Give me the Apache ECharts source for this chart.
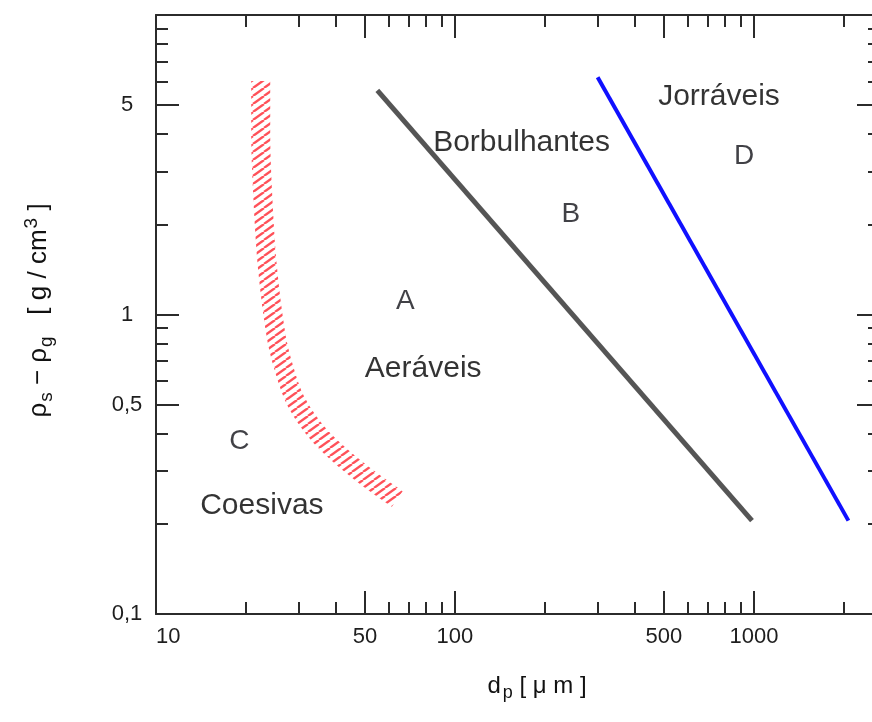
<!DOCTYPE html>
<html>
<head>
<meta charset="utf-8">
<script src="https://cdn.jsdelivr.net/npm/echarts@6/dist/echarts.min.js"></script>
<style>
  html, body { margin: 0; padding: 0; background: #fff; overflow: hidden; }
  #chart { width: 872px; height: 722px; }
</style>
</head>
<body>
<div id="chart"></div>
<script>
// Particle diameter axis (µm)
const xRange = [10, 2640];
const xMajorTicks = [10, 50, 100, 500, 1000];
const xMinorTicks = [20, 30, 40, 60, 70, 80, 90, 200, 300, 400, 600, 700, 800, 900, 2000];
const xLabelTicks = [10, 50, 100, 500, 1000];

// Density difference axis (g/cm3)
const yRange = [0.1, 10];
const yMajorTicks = [0.1, 0.5, 1, 5, 10];
const yMinorTicks = [0.2, 0.3, 0.4, 0.6, 0.7, 0.8, 0.9, 2, 3, 4, 6, 7, 8, 9];
const yLabelTicks = [0.1, 0.5, 1, 5];

// Group boundaries: A/B (grey), B/D (blue), C/A (hatched band)
const boundaryAB = [[55, 5.6], [985, 0.205]];
const boundaryBD = [[300, 6.2], [2070, 0.205]];
const boundaryCA = [
  [22.4, 6.02], [22.4, 3.98], [22.8, 2.39], [23.6, 1.43], [25.2, 0.853],
  [26.8, 0.66], [29.4, 0.512], [35.2, 0.395], [46.7, 0.305], [64.1, 0.242]
];

// Group letters and names, placed in data coordinates
const groupLetters = [[68.2, 1.13, 'A'], [244, 2.21, 'B'], [19.0, 0.385, 'C'], [927, 3.45, 'D']];
const groupNames = [[167, 3.82, 'Borbulhantes'], [78.3, 0.675, 'Aeráveis'], [22.6, 0.236, 'Coesivas'], [764, 5.48, 'Jorráveis']];

const FONT = '"Liberation Sans", Arial, Helvetica, sans-serif';
const AXIS_COLOR = '#2b2b2b';

// Diagonal red hatch used to stroke the C/A band
function makeHatch() {
  const W = 11, H = 8;
  const c = document.createElement('canvas');
  c.width = W; c.height = H;
  const ctx = c.getContext('2d');
  ctx.strokeStyle = 'rgba(255, 50, 60, 0.85)';
  ctx.lineWidth = 2.3;
  for (const x0 of [-W, 0, W]) {
    ctx.beginPath();
    ctx.moveTo(x0, H);
    ctx.lineTo(x0 + W, 0);
    ctx.stroke();
  }
  return c;
}

function fmtNum(v) { return String(v).replace('.', ','); }

function xAxisDef(position, ticks, len, line, labels) {
  return {
    type: 'log', logBase: 10, position: position,
    min: xRange[0], max: xRange[1],
    axisLine: { show: line, onZero: false, lineStyle: { color: AXIS_COLOR, width: 2 } },
    axisTick: { show: true, inside: true, length: len, customValues: ticks,
                lineStyle: { color: AXIS_COLOR, width: 2 } },
    minorTick: { show: false },
    splitLine: { show: false },
    axisLabel: labels ? {
      show: true, customValues: labels, formatter: fmtNum,
      fontFamily: FONT, fontSize: 22, color: '#1e1e1e', margin: 12,
      alignMinLabel: 'left'
    } : { show: false }
  };
}

function yAxisDef(position, ticks, len, line, labels) {
  return {
    type: 'log', logBase: 10, position: position,
    min: yRange[0], max: yRange[1],
    axisLine: { show: line, onZero: false, lineStyle: { color: AXIS_COLOR, width: 2 } },
    axisTick: { show: true, inside: true, length: len, customValues: ticks,
                lineStyle: { color: AXIS_COLOR, width: 2 } },
    minorTick: { show: false },
    splitLine: { show: false },
    axisLabel: labels ? {
      show: true, customValues: labels, formatter: fmtNum,
      fontFamily: FONT, fontSize: 22, color: '#1e1e1e', margin: 29, align: 'center'
    } : { show: false }
  };
}

const xAxes = [
  xAxisDef('bottom', xMajorTicks, 23, true, xLabelTicks),
  xAxisDef('bottom', xMinorTicks, 12, false, null),
  xAxisDef('top', xMajorTicks, 23, true, null),
  xAxisDef('top', xMinorTicks, 12, false, null)
];
xAxes[0].name = '{t|d}{sub|p}{t| [ μ m ]}';
xAxes[0].nameLocation = 'middle';
xAxes[0].nameGap = 56;
xAxes[0].nameTextStyle = {
  fontFamily: FONT, color: '#111', padding: [0, 0, 0, 38],
  rich: {
    t: { fontFamily: FONT, fontSize: 24, color: '#111' },
    sub: { fontFamily: FONT, fontSize: 18, color: '#111', padding: [14, 0, 0, 2] }
  }
};

const yAxes = [
  yAxisDef('left', yMajorTicks, 23, true, yLabelTicks),
  yAxisDef('left', yMinorTicks, 12, false, null),
  yAxisDef('right', yMajorTicks, 23, true, null),
  yAxisDef('right', yMinorTicks, 12, false, null)
];
yAxes[0].name = '{t|ρ}{sub|s}{t| − ρ}{sub|g}{t|   [ g / cm}{sup|3}{t| ]}';
yAxes[0].nameLocation = 'middle';
yAxes[0].nameGap = 100;
yAxes[0].nameTextStyle = {
  fontFamily: FONT, color: '#111', padding: [0, 0, 0, 8],
  rich: {
    t: { fontFamily: FONT, fontSize: 26, color: '#111' },
    sub: { fontFamily: FONT, fontSize: 19, color: '#111', padding: [15, 0, 0, 1] },
    sup: { fontFamily: FONT, fontSize: 19, color: '#111', padding: [0, 0, 15, 1] }
  }
};

const chart = echarts.init(document.getElementById('chart'), null, { renderer: 'canvas' });

chart.setOption({
  backgroundColor: '#ffffff',
  animation: false,
  grid: { left: 156, right: -8, top: 15, bottom: 108, outerBoundsMode: 'none', containLabel: false },
  xAxis: xAxes,
  yAxis: yAxes,
  series: [
    {
      type: 'line', name: 'C/A', data: boundaryCA, smooth: 0.35,
      showSymbol: false, symbol: 'none',
      lineStyle: { width: 19, cap: 'butt', color: { image: makeHatch(), repeat: 'repeat' } },
      z: 2
    },
    {
      type: 'line', name: 'A/B', data: boundaryAB, showSymbol: false, symbol: 'none',
      lineStyle: { width: 5, color: '#555555', cap: 'butt' }, z: 3
    },
    {
      type: 'line', name: 'B/D', data: boundaryBD, showSymbol: false, symbol: 'none',
      lineStyle: { width: 4, color: '#1010ff', cap: 'butt' }, z: 3
    },
    {
      type: 'scatter', name: 'letters', symbolSize: 1,
      itemStyle: { color: 'rgba(0,0,0,0)' },
      data: groupLetters.map(d => ({ value: [d[0], d[1]], name: d[2] })),
      label: { show: true, position: 'inside', offset: [0, 3], formatter: p => p.name,
               fontFamily: FONT, fontSize: 28, color: '#111118' },
      z: 4
    },
    {
      type: 'scatter', name: 'names', symbolSize: 1,
      itemStyle: { color: 'rgba(0,0,0,0)' },
      data: groupNames.map(d => ({ value: [d[0], d[1]], name: d[2] })),
      label: { show: true, position: 'inside', offset: [0, 3], formatter: p => p.name,
               fontFamily: FONT, fontSize: 30, color: '#000' },
      z: 4
    }
  ]
});
</script>
</body>
</html>
